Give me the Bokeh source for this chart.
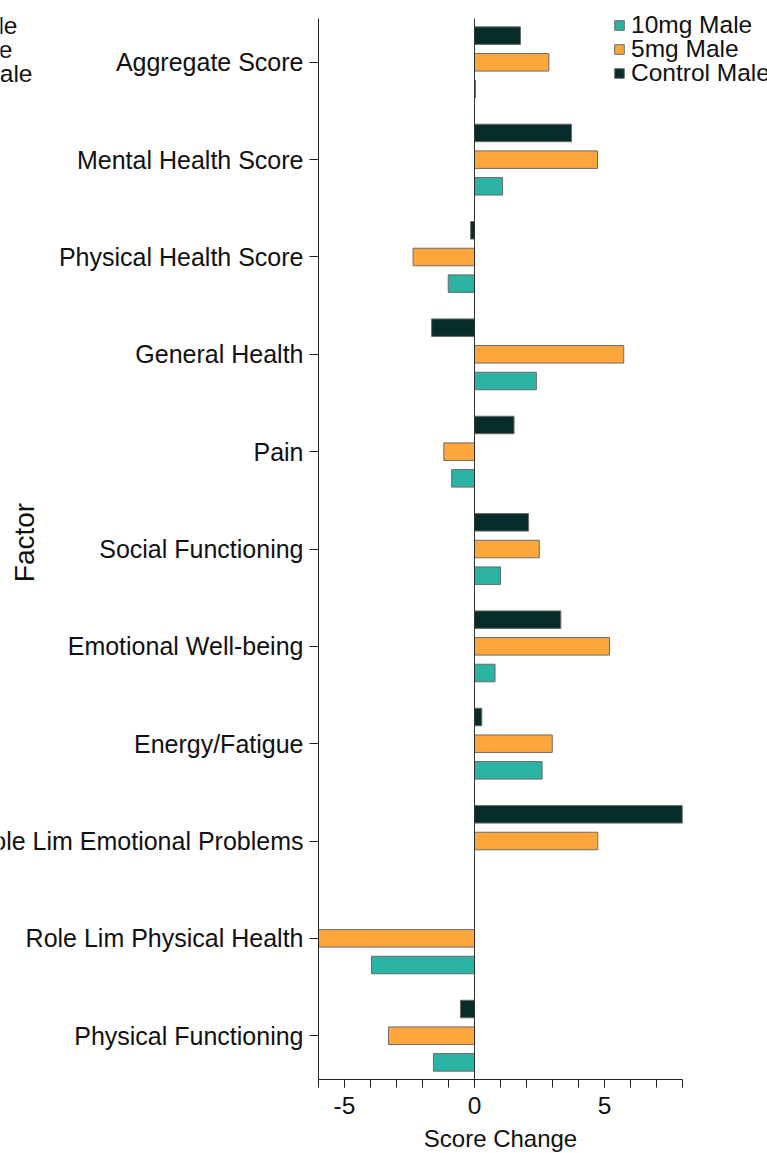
from bokeh.plotting import figure
from bokeh.models import ColumnDataSource, FixedTicker, Legend, LegendItem, Label, Range1d
from bokeh.embed import file_html
from bokeh.resources import INLINE

# ---- data (bottom to top) ----
factors = ["Physical Functioning", "Role Lim Physical Health", "Role Lim Emotional Problems",
           "Energy/Fatigue", "Emotional Well-being", "Social Functioning", "Pain",
           "General Health", "Physical Health Score", "Mental Health Score", "Aggregate Score"]
control_male = [-0.54, 0.0, 7.99, 0.28, 3.32, 2.08, 1.52, -1.65, -0.15, 3.73, 1.77]
mg5_male = [-3.31, -6.0, 4.74, 2.99, 5.19, 2.49, -1.18, 5.74, -2.36, 4.73, 2.86]
mg10_male = [-1.58, -3.96, 0.0, 2.60, 0.79, 1.00, -0.88, 2.38, -1.01, 1.08, 0.04]
series_names = ["10mg Male", "5mg Male", "Control Male"]
female_names = ["10mg Female", "5mg Female", "Control Female"]
x_major = [-5, 0, 5]
x_minor = list(range(-6, 9))
x_tick_labels = {-5: "-5", 0: "0", 5: "5"}

# ---- layout constants (pixels) ----
W, H = 767, 1153
X_LO, X_HI = -6.0, 8.0          # plotted x extent
Y_LO, Y_HI = -0.45, 10.45        # plotted y extent
PX_LEFT, PX_RIGHT = 318, 682     # where the axes box sits on the page
PX_TOP, PX_BOTTOM = 18, 1079
LEGEND_ROWS_PX = [25, 49, 73]    # vertical centres of legend rows
LEGEND_ROW_H = 28

sx = (PX_RIGHT - PX_LEFT) / (X_HI - X_LO)
sy = (PX_BOTTOM - PX_TOP) / (Y_HI - Y_LO)
x_start = X_LO - PX_LEFT / sx
x_end = X_HI + (W - PX_RIGHT) / sx
y_end = Y_HI + PX_TOP / sy
y_start = Y_HI - (H - PX_TOP) / sy

def px2x(px):
    return x_start + px / sx

def py2y(py):
    return y_end - py / sy

FONT = "Liberation Sans"
C_TEAL = "#2bb3a3"
C_ORANGE = "#fda63c"
C_DARK = "#062d29"
EDGE = "#6b6b6b"
TXT = "#111111"
AX = "#222222"
OFF = 0.274
BAR_H = 0.18

idx = list(range(len(factors)))
src = ColumnDataSource(dict(
    y_ctrl=[i + OFF for i in idx], y_5=[i for i in idx], y_10=[i - OFF for i in idx],
    ctrl=control_male, m5=mg5_male, m10=mg10_male,
))

p = figure(width=W, height=H, x_range=Range1d(x_start, x_end), y_range=Range1d(y_start, y_end),
           output_backend="svg", toolbar_location=None,
           min_border_top=0, min_border_right=0, min_border_bottom=0, min_border_left=0)
p.outline_line_color = None
p.xgrid.visible = False
p.ygrid.visible = False
p.background_fill_color = "white"
p.border_fill_color = "white"

r10 = p.hbar(y="y_10", right="m10", left=0, height=BAR_H, source=src,
             fill_color=C_TEAL, line_color=EDGE, line_width=1)
r5 = p.hbar(y="y_5", right="m5", left=0, height=BAR_H, source=src,
            fill_color=C_ORANGE, line_color=EDGE, line_width=1)
rc = p.hbar(y="y_ctrl", right="ctrl", left=0, height=BAR_H, source=src,
            fill_color=C_DARK, line_color=EDGE, line_width=1)

# zero reference line over the plotted y extent
p.segment(x0=[0], y0=[Y_LO], x1=[0], y1=[Y_HI], line_color="#333333", line_width=1)

# y axis (fixed inside the canvas at x = X_LO)
ya = p.yaxis[0]
ya.fixed_location = X_LO
ya.bounds = (Y_LO, Y_HI)
ya.ticker = FixedTicker(ticks=idx)
ya.major_label_overrides = {i: f for i, f in zip(idx, factors)}
ya.minor_tick_line_color = None
ya.major_tick_out = 9
ya.major_tick_in = 0
ya.major_label_standoff = 6
ya.major_label_text_font = FONT
ya.major_label_text_font_size = "25px"
ya.major_label_text_color = TXT
ya.axis_line_color = AX
ya.major_tick_line_color = AX

# x axis (fixed at y = Y_LO)
xa = p.xaxis[0]
xa.fixed_location = Y_LO
xa.bounds = (X_LO, X_HI)
xa.ticker = FixedTicker(ticks=x_major, minor_ticks=x_minor)
xa.major_label_overrides = x_tick_labels
xa.major_tick_out = 8
xa.major_tick_in = 0
xa.minor_tick_out = 8
xa.minor_tick_in = 0
xa.major_label_standoff = 9
xa.major_label_text_font = FONT
xa.major_label_text_font_size = "24.5px"
xa.major_label_text_color = TXT
xa.axis_line_color = AX
xa.major_tick_line_color = AX
xa.minor_tick_line_color = AX
xa.axis_label = "Score Change"
xa.axis_label_text_font = FONT
xa.axis_label_text_font_size = "24px"
xa.axis_label_text_font_style = "normal"
xa.axis_label_text_color = TXT
xa.axis_label_standoff = 8

# "Factor" (y title, drawn over the tick-label margin as in the reference)
p.add_layout(Label(x=px2x(24), y=py2y(542), text="Factor", angle=1.5707963, text_align="center",
                   text_baseline="middle", text_font=FONT, text_font_size="28px",
                   text_color=TXT))

# clipped legend of the neighbouring (female) panel
for name, xr, yy in zip(female_names, [17, 12, 32], LEGEND_ROWS_PX):
    p.add_layout(Label(x=px2x(xr), y=py2y(yy), text=name, text_align="right",
                       text_baseline="middle", text_font=FONT, text_font_size="24.5px",
                       text_color=TXT))

# legend of this panel: one row per legend so the rows sit as tightly as in the reference
for name, rend, row in zip(series_names, [r10, r5, rc], LEGEND_ROWS_PX):
    lg = Legend(items=[LegendItem(label=name, renderers=[rend])],
                location=(613, H - (row + LEGEND_ROW_H // 2)), orientation="vertical",
                padding=0, margin=0, spacing=0, label_standoff=6,
                glyph_width=12, glyph_height=12, label_height=24,
                label_text_font=FONT, label_text_font_size="24.5px",
                label_text_color=TXT, border_line_color=None,
                background_fill_alpha=0)
    p.add_layout(lg, "center")

open("out.html", "w").write(file_html(p, INLINE))
